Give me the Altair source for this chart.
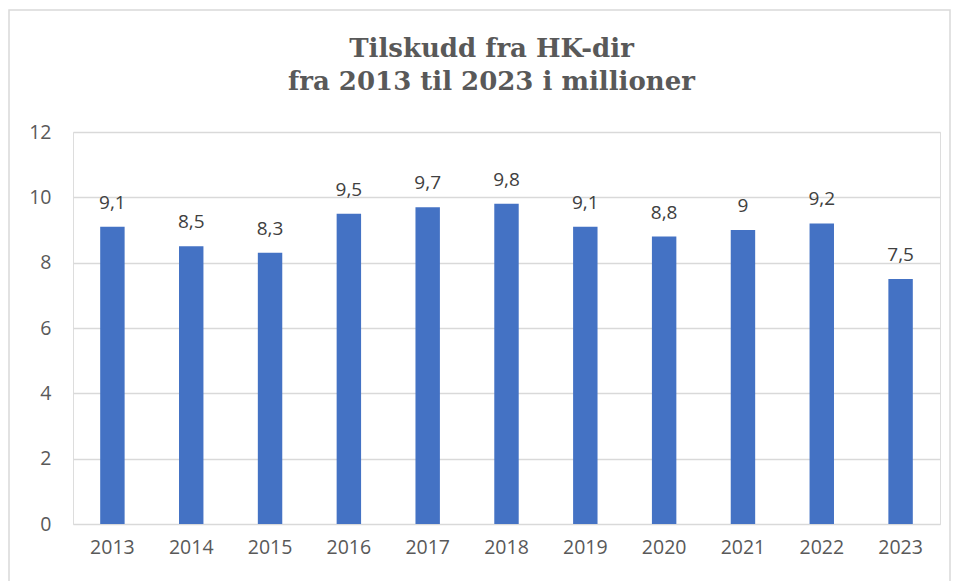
import altair as alt
import pandas as pd

years = ["2013", "2014", "2015", "2016", "2017", "2018", "2019", "2020", "2021", "2022", "2023"]
values = [9.1, 8.5, 8.3, 9.5, 9.7, 9.8, 9.1, 8.8, 9.0, 9.2, 7.5]

df = pd.DataFrame({"year": years, "value": values})

W, H = 867, 392

base = alt.Chart(df)

x_enc = alt.X("year:N", sort=years, title=None,
              scale=alt.Scale(paddingInner=0.69, paddingOuter=0.345),
              axis=alt.Axis(labelAngle=0, domain=False, ticks=False, labelPadding=14,
                            labelFont="Open Sans", labelFontSize=19.5, labelColor="#595959"))
y_enc = alt.Y("value:Q", title=None,
              scale=alt.Scale(domain=[0, 12], nice=False),
              axis=alt.Axis(values=[0, 2, 4, 6, 8, 10, 12], domain=False, ticks=False,
                            labelPadding=22, labelFont="Open Sans", labelFontSize=19.5,
                            labelColor="#595959", gridColor="#d9d9d9", gridWidth=1.5,
                            format="d"))

bars = base.mark_bar(color="#4472C4").encode(x=x_enc, y=y_enc)

labels = base.transform_calculate(
    lbl="replace(format(datum.value, '.1~f'), '.', ',')"
).mark_text(dy=-14, baseline="bottom", font="Open Sans", fontSize=19, color="#404040").encode(
    x=alt.X("year:N", sort=years), y="value:Q", text="lbl:N")

border = alt.Chart(pd.DataFrame({"a": [0]})).mark_rect(
    fill=None, stroke="#d9d9d9", strokeWidth=1.5
).encode(x=alt.value(-64), x2=alt.value(877), y=alt.value(-122), y2=alt.value(470))

chart = alt.layer(border, bars, labels).properties(
    width=W, height=H,
    title=alt.TitleParams(
        ["Tilskudd fra HK-dir", "fra 2013 til 2023 i millioner"],
        font="DejaVu Serif", fontSize=26, fontWeight="bold", color="#595959",
        anchor="middle", dx=-15, offset=-86, lineHeight=33),
    autosize=alt.AutoSizeParams(type="none"),
    padding={"left": 73, "top": 132, "right": 16, "bottom": 57},
).configure_view(stroke=None).configure(background="white")

chart.save("out.html", embed_options={"renderer": "svg", "actions": False})
